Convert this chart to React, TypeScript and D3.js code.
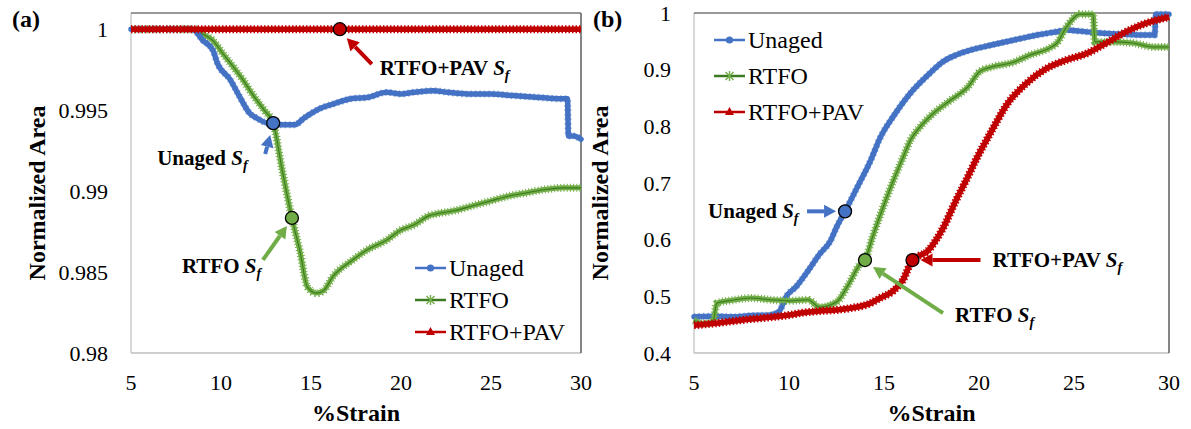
import React, { useEffect, useRef } from "react";
import * as d3 from "d3";

const W = 1191;
const H = 429;

// ---------- data: panel (a), normalized area vs %strain ----------
const unagedA: [number, number][] = [
  [5, 1.0], [6, 1.0], [7, 1.0], [8, 1.0], [8.4, 1.0], [9.0, 0.9993], [9.55, 0.9987],
  [9.8, 0.9979], [10.5, 0.9969], [11.05, 0.9958], [11.6, 0.9948], [12.0, 0.9945],
  [12.55, 0.9942], [13.3, 0.9941], [14.1, 0.9941], [14.6, 0.9945], [15.5, 0.9951],
  [16.3, 0.9954], [17.2, 0.9957], [18.2, 0.9958], [19.2, 0.9961], [20.0, 0.996],
  [20.7, 0.9961], [21.8, 0.9962], [22.6, 0.9961], [23.7, 0.996], [25.0, 0.996],
  [26.2, 0.9959], [27.5, 0.9958], [28.9, 0.9957], [29.25, 0.9957], [29.3, 0.9934],
  [29.6, 0.9934], [30, 0.9932],
];
const rtfoA: [number, number][] = [
  [5, 1.0], [7, 1.0], [8.5, 1.0], [8.8, 0.9998], [9.55, 0.9993], [10.1, 0.9985],
  [10.7, 0.99765], [11.2, 0.9969], [11.8, 0.9959], [12.4, 0.995], [12.9, 0.9942],
  [13.4, 0.9913], [13.94, 0.98834], [14.4, 0.9862], [14.8, 0.98407], [15.3, 0.9837],
  [15.7, 0.98385], [16.2, 0.9847], [17.3, 0.98573], [18.1, 0.98636], [19.2, 0.98697],
  [20.0, 0.9876], [20.7, 0.9879], [21.6, 0.9885], [22, 0.9886], [23, 0.9888],
  [24, 0.9891], [25, 0.9894], [26, 0.9897], [27, 0.9899], [28, 0.9901], [29, 0.9902],
  [30, 0.9902],
];
const pavA: [number, number][] = [
  [5, 1.0], [10, 1.0], [15, 1.0], [20, 1.0], [25, 1.0], [30, 1.0],
];
// failure strain points S_f for panel (a)
const sfA = [
  { series: "Unaged", strain: 12.9, area: 0.9942 },
  { series: "RTFO", strain: 13.94, area: 0.98834 },
  { series: "RTFO+PAV", strain: 16.6, area: 1.0 },
];

// ---------- data: panel (b) ----------
const unagedB: [number, number][] = [
  [5, 0.464], [6, 0.465], [7, 0.464], [8, 0.466], [9, 0.467], [9.5, 0.474],
  [9.8, 0.497], [10.4, 0.518], [11.0, 0.545], [11.6, 0.574], [12.2, 0.599],
  [12.5, 0.622], [12.95, 0.65], [13.6, 0.693], [14.3, 0.74], [14.8, 0.78],
  [15.5, 0.818], [16.3, 0.855], [17.3, 0.89], [18.1, 0.914], [18.8, 0.926],
  [19.5, 0.934], [20.6, 0.943], [22.2, 0.955], [23.2, 0.962], [24.1, 0.967],
  [24.6, 0.97], [25.3, 0.968], [26.2, 0.965], [27.4, 0.963], [28.8, 0.961],
  [29.25, 0.961], [29.3, 0.998], [30, 0.998],
];
const rtfoB: [number, number][] = [
  [5, 0.458], [5.5, 0.452], [6.0, 0.455], [6.2, 0.488], [7, 0.493], [8, 0.497],
  [9, 0.494], [10, 0.492], [11, 0.494], [11.6, 0.481], [12.5, 0.49], [13.2, 0.525],
  [13.7, 0.555], [14.0, 0.564], [14.4, 0.605], [14.95, 0.657], [15.5, 0.705],
  [16.0, 0.745], [16.4, 0.776], [16.9, 0.799], [17.6, 0.823], [18.5, 0.846],
  [19.4, 0.869], [20.05, 0.897], [20.7, 0.905], [21.8, 0.913], [22.7, 0.926],
  [23.7, 0.938], [24.1, 0.947], [24.6, 0.975], [25.3, 0.998], [26.0, 0.998],
  [26.1, 0.949], [27.05, 0.949], [28.1, 0.947], [29.2, 0.94], [30, 0.94],
];
const pavB: [number, number][] = [
  [5, 0.449], [6, 0.452], [7, 0.456], [8, 0.46], [9, 0.463], [10, 0.467],
  [10.7, 0.471], [11.6, 0.474], [12.5, 0.476], [13.2, 0.479], [14.3, 0.488],
  [14.8, 0.497], [15.5, 0.51], [16.0, 0.529], [16.5, 0.564], [17.3, 0.58],
  [18.1, 0.62], [18.8, 0.67], [19.4, 0.71], [19.9, 0.745], [20.6, 0.788],
  [21.5, 0.84], [22.5, 0.876], [23.6, 0.903], [24.6, 0.917], [25.7, 0.929],
  [26.7, 0.947], [27.8, 0.968], [28.8, 0.982], [30, 0.993],
];
const sfB = [
  { series: "Unaged", strain: 12.95, area: 0.65 },
  { series: "RTFO", strain: 14.0, area: 0.564 },
  { series: "RTFO+PAV", strain: 16.5, area: 0.564 },
];

const xTicks = [5, 10, 15, 20, 25, 30];
const yTicksA = [0.98, 0.985, 0.99, 0.995, 1];
const yTicksB = [0.4, 0.5, 0.6, 0.7, 0.8, 0.9, 1];
const seriesNames = ["Unaged", "RTFO", "RTFO+PAV"];

// ---------- styling ----------
const FONT = "Liberation Serif";
const BLUE = "#4472C4";
const GREEN = "#70AD47";
const DARK_GREEN = "#3B7A1E";
const RED = "#C00000";
const seriesColor: Record<string, string> = { Unaged: BLUE, RTFO: GREEN, "RTFO+PAV": RED };

type Box = { left: number; right: number; top: number; bottom: number };
type Callout = { series: string; tip: [number, number]; tail: [number, number]; text: [number, number] };

type PanelSpec = {
  box: Box;
  yDomain: [number, number];
  yTicks: number[];
  yFmt: (v: number) => string;
  series: { name: string; data: [number, number][] }[];
  sf: { series: string; strain: number; area: number }[];
  callouts: Callout[];
  legend: { x: number; y: number; gap: number };
  tag: string;
  tagX: number;
};

type Sel = d3.Selection<SVGGElement, unknown, null, undefined>;

function addText(g: Sel, x: number, y: number, s: string, size: number, bold = false, anchor = "start") {
  return g
    .append("text")
    .attr("x", x)
    .attr("y", y)
    .attr("font-family", FONT)
    .attr("font-size", size)
    .attr("font-weight", bold ? "bold" : "normal")
    .attr("text-anchor", anchor)
    .attr("fill", "#000")
    .text(s);
}

function drawArrow(g: Sel, x1: number, y1: number, x2: number, y2: number, color: string) {
  const ang = Math.atan2(y2 - y1, x2 - x1);
  const len = 12;
  const half = 6.5;
  const bx = x2 - len * Math.cos(ang);
  const by = y2 - len * Math.sin(ang);
  const px = -Math.sin(ang) * half;
  const py = Math.cos(ang) * half;
  g.append("line").attr("x1", x1).attr("y1", y1).attr("x2", bx).attr("y2", by).attr("stroke", color).attr("stroke-width", 4);
  g.append("polygon")
    .attr("points", `${x2},${y2} ${bx + px},${by + py} ${bx - px},${by - py}`)
    .attr("fill", color);
}

function drawSeries(g: Sel, d: string, name: string) {
  const p = g.append("g").attr("fill", "none").attr("stroke-linejoin", "round");
  if (name === "Unaged") {
    p.append("path").attr("d", d).attr("stroke", BLUE).attr("stroke-width", 5.5).attr("stroke-linecap", "round");
    p.append("path").attr("d", d).attr("stroke", BLUE).attr("stroke-width", 7).attr("stroke-dasharray", "1.5 3").attr("opacity", 0.6);
  } else if (name === "RTFO") {
    p.append("path").attr("d", d).attr("stroke", GREEN).attr("stroke-width", 8).attr("stroke-dasharray", "1 2.2");
    p.append("path").attr("d", d).attr("stroke", GREEN).attr("stroke-width", 5);
    p.append("path").attr("d", d).attr("stroke", DARK_GREEN).attr("stroke-width", 1.1);
  } else {
    p.append("path").attr("d", d).attr("stroke", RED).attr("stroke-width", 8).attr("stroke-dasharray", "1.5 2");
    p.append("path").attr("d", d).attr("stroke", RED).attr("stroke-width", 5.5);
  }
}

function drawLegendMarker(g: Sel, name: string, x: number, y: number) {
  const cx = x + 15.5;
  const lineColor = name === "Unaged" ? BLUE : name === "RTFO" ? DARK_GREEN : RED;
  g.append("line").attr("x1", x).attr("y1", y).attr("x2", x + 31).attr("y2", y).attr("stroke", lineColor).attr("stroke-width", 2.5);
  if (name === "Unaged") {
    g.append("circle").attr("cx", cx).attr("cy", y).attr("r", 3.6).attr("fill", BLUE);
  } else if (name === "RTFO") {
    const s = g.append("g").attr("stroke", GREEN).attr("stroke-width", 1.4);
    s.append("line").attr("x1", cx - 4).attr("y1", y - 4).attr("x2", cx + 4).attr("y2", y + 4);
    s.append("line").attr("x1", cx - 4).attr("y1", y + 4).attr("x2", cx + 4).attr("y2", y - 4);
    s.append("line").attr("x1", cx).attr("y1", y - 5).attr("x2", cx).attr("y2", y + 5);
  } else {
    g.append("polygon").attr("points", `${cx},${y - 5} ${cx - 4.5},${y + 3} ${cx + 4.5},${y + 3}`).attr("fill", RED);
  }
}

function drawPanel(root: Sel, spec: PanelSpec) {
  const { box } = spec;
  const g = root.append("g");
  const x = d3.scaleLinear().domain([5, 30]).range([box.left, box.right]);
  const y = d3.scaleLinear().domain(spec.yDomain).range([box.bottom, box.top]);
  const line = d3
    .line<[number, number]>()
    .x((d) => x(d[0]))
    .y((d) => y(d[1]))
    .curve(d3.curveMonotoneX);

  // plot frame
  g.append("line").attr("x1", box.left).attr("y1", box.top).attr("x2", box.left).attr("y2", box.bottom).attr("stroke", "#BFBFBF").attr("stroke-width", 1.2);
  g.append("line").attr("x1", box.left).attr("y1", box.bottom).attr("x2", box.right).attr("y2", box.bottom).attr("stroke", "#BFBFBF").attr("stroke-width", 1.4);
  g.append("line").attr("x1", box.left).attr("y1", box.top).attr("x2", box.right).attr("y2", box.top).attr("stroke", "#333").attr("stroke-width", 1);
  g.append("line").attr("x1", box.right).attr("y1", box.top).attr("x2", box.right).attr("y2", box.bottom).attr("stroke", "#666").attr("stroke-width", 1.6);

  // tick labels
  spec.yTicks.forEach((t) => addText(g, box.left - 23, y(t) + 7.5, spec.yFmt(t), 22, false, "end"));
  xTicks.forEach((t) => addText(g, x(t), 390, String(t), 22, false, "middle"));

  // axis titles
  const midX = (box.left + box.right) / 2;
  const midY = (box.top + box.bottom) / 2;
  addText(g, midX, 421, "%Strain", 24, true, "middle");
  addText(g, 0, 0, "Normalized Area", 24, true, "middle").attr(
    "transform",
    `translate(${box.left - 86},${midY + 10}) rotate(-90)`
  );

  // panel tag
  addText(g, spec.tagX, 27, spec.tag, 24, true);

  // series
  spec.series.forEach((s) => drawSeries(g, line(s.data) || "", s.name));

  // S_f markers with callouts
  spec.callouts.forEach((c) => {
    const p = spec.sf.find((s) => s.series === c.series)!;
    const cx = x(p.strain);
    const cy = y(p.area);
    const color = seriesColor[c.series];
    drawArrow(g, cx + c.tail[0], cy + c.tail[1], cx + c.tip[0], cy + c.tip[1], color);
    g.append("circle").attr("cx", cx).attr("cy", cy).attr("r", 6.5).attr("fill", color).attr("stroke", "#000").attr("stroke-width", 1.3);
    const t = addText(g, cx + c.text[0], cy + c.text[1], c.series + " ", 21, true);
    t.append("tspan").attr("font-style", "italic").text("S");
    t.append("tspan").attr("font-style", "italic").attr("font-size", 14).attr("dy", 5).text("f");
  });

  // legend
  seriesNames.forEach((n, i) => {
    const ly = spec.legend.y + i * spec.legend.gap;
    drawLegendMarker(g, n, spec.legend.x, ly);
    addText(g, spec.legend.x + 34, ly + 8, n, 24);
  });
}

export default function App() {
  const ref = useRef<SVGSVGElement | null>(null);

  useEffect(() => {
    if (!ref.current) return;
    const svg = d3.select(ref.current);
    svg.selectAll("*").remove();
    svg.append("rect").attr("width", W).attr("height", H).attr("fill", "#fff");
    const root = svg.append("g") as unknown as Sel;

    drawPanel(root, {
      box: { left: 131, right: 581, top: 13, bottom: 353 },
      yDomain: [0.98, 1.001],
      yTicks: yTicksA,
      yFmt: (v) => (v === 1 ? "1" : String(+v.toFixed(3))),
      series: [
        { name: "RTFO", data: rtfoA },
        { name: "Unaged", data: unagedA },
        { name: "RTFO+PAV", data: pavA },
      ],
      sf: sfA,
      callouts: [
        { series: "Unaged", tip: [-3, 12], tail: [-8, 31], text: [-116, 42] },
        { series: "RTFO", tip: [-5, 8], tail: [-29, 42], text: [-110, 55] },
        { series: "RTFO+PAV", tip: [7, 9], tail: [32, 35], text: [40, 46] },
      ],
      legend: { x: 415, y: 268, gap: 32 },
      tag: "(a)",
      tagX: 12,
    });

    drawPanel(root, {
      box: { left: 694, right: 1169, top: 13, bottom: 353 },
      yDomain: [0.4, 1.0],
      yTicks: yTicksB,
      yFmt: (v) => (v === 1 ? "1" : String(+v.toFixed(1))),
      series: [
        { name: "Unaged", data: unagedB },
        { name: "RTFO", data: rtfoB },
        { name: "RTFO+PAV", data: pavB },
      ],
      sf: sfB,
      callouts: [
        { series: "Unaged", tip: [-9, 0], tail: [-38, 0], text: [-137, 7] },
        { series: "RTFO", tip: [8, 7], tail: [78, 53], text: [90, 62] },
        { series: "RTFO+PAV", tip: [8, 0], tail: [68, 0], text: [80, 7] },
      ],
      legend: { x: 714, y: 40, gap: 36 },
      tag: "(b)",
      tagX: 593,
    });
  }, []);

  return (
    <svg
      ref={ref}
      width={W}
      height={H}
      style={{ position: "absolute", left: 0, top: 0, display: "block", background: "#fff" }}
    />
  );
}
